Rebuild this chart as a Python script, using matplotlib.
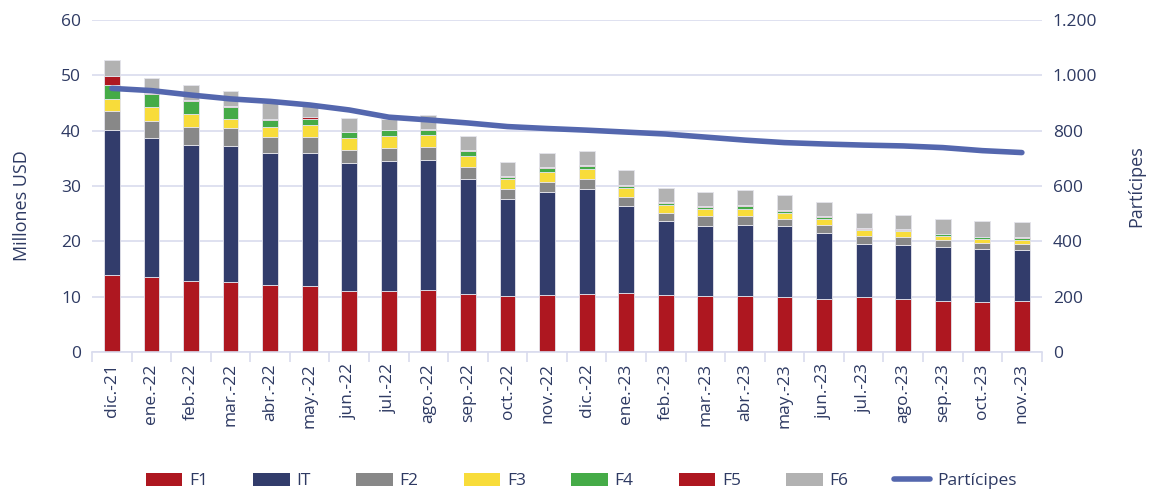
import numpy as np
import matplotlib.pyplot as plt
from matplotlib.lines import Line2D
from matplotlib.patches import Patch
from matplotlib.ticker import FuncFormatter

plt.rcParams['font.family'] = ['Open Sans', 'DejaVu Sans']

meses = ['dic.-21', 'ene.-22', 'feb.-22', 'mar.-22', 'abr.-22', 'may.-22', 'jun.-22',
         'jul.-22', 'ago.-22', 'sep.-22', 'oct.-22', 'nov.-22', 'dic.-22', 'ene.-23',
         'feb.-23', 'mar.-23', 'abr.-23', 'may.-23', 'jun.-23', 'jul.-23', 'ago.-23',
         'sep.-23', 'oct.-23', 'nov.-23']

f1 = [13.9, 13.5, 12.9, 12.6, 12.1, 11.9, 11.1, 11.1, 11.2, 10.5, 10.2, 10.3,
      10.4, 10.7, 10.3, 10.2, 10.1, 9.9, 9.5, 9.9, 9.5, 9.3, 9.0, 9.2]
it = [26.2, 25.25, 24.6, 24.7, 23.9, 24.1, 23.0, 23.5, 23.5, 20.8, 17.5, 18.7,
      19.1, 15.7, 13.3, 12.6, 12.8, 12.8, 12.1, 9.7, 9.9, 9.7, 9.6, 9.3]
f2 = [3.4, 3.05, 3.2, 3.1, 2.9, 2.8, 2.5, 2.3, 2.4, 2.2, 1.7, 1.8,
      1.8, 1.7, 1.5, 1.7, 1.6, 1.4, 1.4, 1.4, 1.3, 1.3, 1.1, 1.0]
f3 = [2.3, 2.4, 2.4, 1.8, 1.8, 2.2, 2.0, 2.2, 2.1, 2.0, 1.8, 1.8,
      1.8, 1.5, 1.4, 1.4, 1.4, 1.1, 1.0, 1.0, 1.1, 0.7, 0.8, 0.8]
f4 = [2.5, 2.4, 2.3, 2.0, 1.3, 1.2, 1.1, 1.0, 1.0, 0.8, 0.4, 0.7,
      0.5, 0.4, 0.4, 0.4, 0.5, 0.3, 0.4, 0.3, 0.3, 0.3, 0.2, 0.3]
f5 = [1.6, 0.2, 0.2, 0.2, 0.1, 0.2, 0.1, 0.1, 0.1, 0.2, 0.2, 0.1,
      0.2, 0.1, 0.2, 0.1, 0.2, 0.2, 0.2, 0.1, 0.1, 0.1, 0.1, 0.1]
f6 = [2.8, 2.7, 2.7, 2.7, 2.9, 2.4, 2.5, 1.9, 2.6, 2.5, 2.5, 2.6,
      2.5, 2.8, 2.6, 2.6, 2.6, 2.6, 2.6, 2.7, 2.6, 2.7, 2.8, 2.8]
participes = [953, 945, 929, 915, 906, 893, 875, 849, 839, 828, 815, 808,
              802, 795, 788, 777, 766, 757, 752, 748, 745, 739, 728, 721]

series = [('F1', f1, '#AE1720'), ('IT', it, '#323C6B'), ('F2', f2, '#888888'),
          ('F3', f3, '#F8DC3A'), ('F4', f4, '#45AB47'), ('F5', f5, '#AE1720'),
          ('F6', f6, '#B2B2B2')]

text_col = '#2E3A63'
grid_col = '#D9DCEE'
line_col = '#5467AE'

fig = plt.figure(figsize=(11.51, 4.94), dpi=100)
ax = fig.add_axes([0.08, 0.2874, 0.825, 0.672])
x = np.arange(len(meses))

bottom = np.zeros(len(meses))
handles = []
for name, vals, col in series:
    ax.bar(x, vals, 0.4, bottom=bottom, color=col, edgecolor='#E4E4EC', linewidth=0.6, zorder=2)
    bottom += np.array(vals)
    handles.append(Patch(facecolor=col, label=name))

ax.set_ylim(0, 60)
ax.set_yticks(range(0, 61, 10))
ax.set_xlim(-0.5, len(meses) - 0.5)
ax.set_xticks(x)
ax.set_xticklabels(meses, rotation=90, fontsize=12.5, color=text_col)
ax.set_xticks(np.arange(-0.5, len(meses), 1), minor=True)
ax.tick_params(axis='x', which='major', length=0, pad=8)
ax.tick_params(axis='x', which='minor', length=7, color=grid_col, width=1.2)
ax.tick_params(axis='y', length=0, labelsize=12.5, labelcolor=text_col, pad=8)
ax.grid(axis='y', color=grid_col, linewidth=1.2, zorder=0)
ax.set_axisbelow(True)
for s in ['top', 'right', 'left']:
    ax.spines[s].set_visible(False)
ax.spines['bottom'].set_color(grid_col)
ax.spines['bottom'].set_linewidth(1.2)
ax.set_ylabel('Millones USD', fontsize=13, color=text_col, labelpad=0)
ax.yaxis.set_label_coords(-0.064, 0.44)

ax2 = ax.twinx()
ax2.plot(x, participes, color=line_col, linewidth=4, solid_capstyle='round', zorder=3)
ax2.set_ylim(0, 1200)
ax2.set_yticks(range(0, 1201, 200))
ax2.yaxis.set_major_formatter(FuncFormatter(lambda v, p: f'{int(v):,}'.replace(',', '.')))
ax2.tick_params(axis='y', length=0, labelsize=12.5, labelcolor=text_col, pad=8)
for s in ['top', 'right', 'left', 'bottom']:
    ax2.spines[s].set_visible(False)
ax2.set_ylabel('Partícipes', fontsize=13, color=text_col, labelpad=0)
ax2.yaxis.set_label_coords(1.09, 0.5)

handles.append(Line2D([0], [0], color=line_col, linewidth=4, solid_capstyle='round', label='Partícipes'))
leg = fig.legend(handles=handles, loc='center', bbox_to_anchor=(0.505, 0.026), ncol=8,
                 frameon=False, fontsize=12.5, handlelength=2.1, handleheight=0.8,
                 columnspacing=2.6, handletextpad=0.4)
for t in leg.get_texts():
    t.set_color(text_col)

fig.savefig('out.png', dpi=100)
